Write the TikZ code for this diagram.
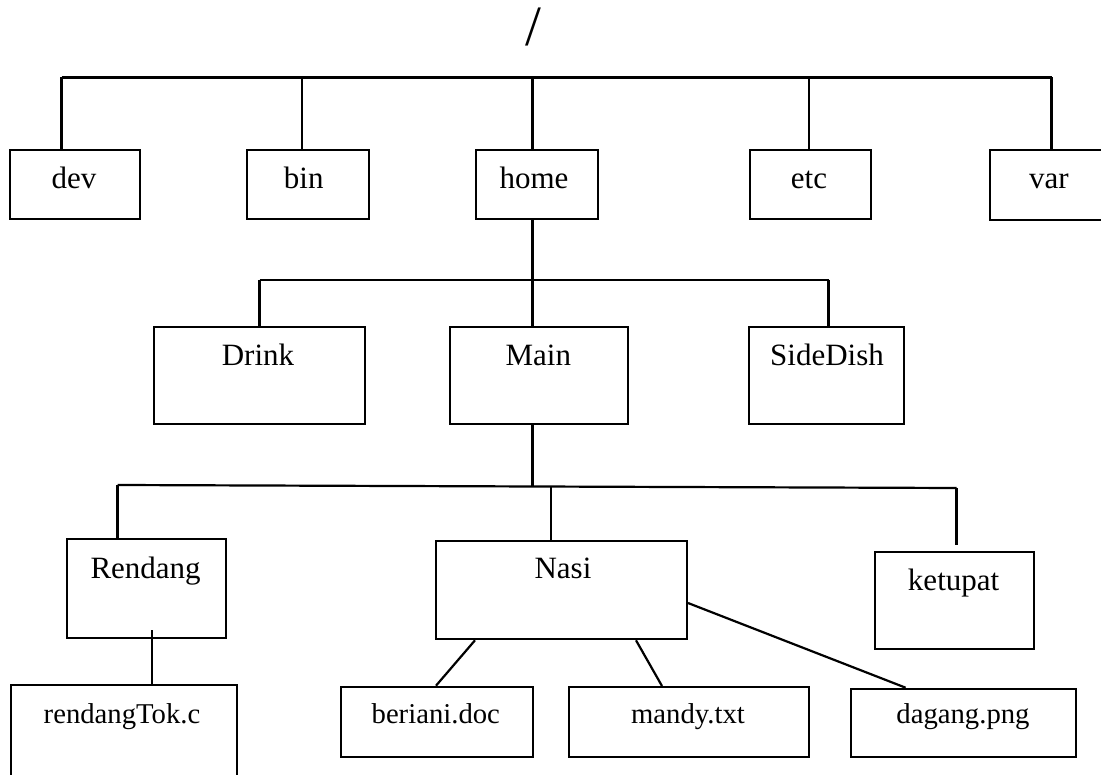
\documentclass[tikz,border=0pt]{standalone}
\usepackage{fontspec}
\setmainfont{Liberation Serif}
\begin{document}
\begin{tikzpicture}[x=1pt,y=-1pt,
  box/.style={draw, line width=2pt, inner sep=0pt, anchor=north west},
  dirtext/.style={font=\fontsize{31}{37}\selectfont, inner sep=0pt, anchor=base},
  filetext/.style={font=\fontsize{28.7}{34}\selectfont, inner sep=0pt, anchor=base},
  conn/.style={line width=2.2pt}]
\useasboundingbox (0,0) rectangle (1101,775);
\clip (0,0) rectangle (1101,775);
% root
\node[font=\fontsize{57}{60}\selectfont, inner sep=0pt] (root) at (533,27) {/};
% level 1 boxes
\node[box, minimum width=130pt, minimum height=69pt] (dev) at (9,149) {};
\node[box, minimum width=122pt, minimum height=69pt] (bin) at (246,149) {};
\node[box, minimum width=122pt, minimum height=69pt] (home) at (475,149) {};
\node[box, minimum width=121.5pt, minimum height=69pt] (etc) at (748.5,149) {};
\node[box, minimum width=130pt, minimum height=70pt] (var) at (989,149) {};
\node[dirtext] (dev-t) at (74,188.3) {dev};
\node[dirtext] (bin-t) at (303.7,188.3) {bin};
\node[dirtext] (home-t) at (534,188.3) {home};
\node[dirtext] (etc-t) at (809,188.3) {etc};
\node[dirtext] (var-t) at (1049,188.3) {var};
% level 1 connectors
\coordinate (b1L) at (61.5,77.5);
\coordinate (b1R) at (1051.5,77.5);
\coordinate (j-bin) at (302,77.5);
\coordinate (j-home) at (532.5,77.5);
\coordinate (j-etc) at (809,77.5);
\draw[conn] (b1L) -- (b1R);
\draw[conn] (b1L) -- (b1L |- dev.north);
\draw[conn] (j-bin) -- (j-bin |- bin.north);
\draw[conn] (j-home) -- (j-home |- home.north);
\draw[conn] (j-etc) -- (j-etc |- etc.north);
\draw[conn] (b1R) -- (b1R |- var.north);
% level 2 boxes
\node[box, minimum width=211.2pt, minimum height=97.8pt] (drink) at (152.6,325.7) {};
\node[box, minimum width=177.4pt, minimum height=97.8pt] (main) at (449.3,325.7) {};
\node[box, minimum width=155pt, minimum height=97.8pt] (side) at (748,325.7) {};
\node[dirtext] (drink-t) at (258,365.7) {Drink};
\node[dirtext] (main-t) at (538.3,365.7) {Main};
\node[dirtext] (side-t) at (827,365.7) {SideDish};
% level 2 connectors
\coordinate (b2L) at (259.5,280);
\coordinate (b2R) at (828.5,280);
\coordinate (j-main) at (532.5,280);
\draw[conn] (j-home |- home.south) -- (j-main);
\draw[conn] (b2L) -- (b2R);
\draw[conn] (b2L) -- (b2L |- drink.north);
\draw[conn] (j-main) -- (j-main |- main.north);
\draw[conn] (b2R) -- (b2R |- side.north);
% level 3 boxes
\node[box, minimum width=158.9pt, minimum height=98.4pt] (rendang) at (65.6,538.3) {};
\node[box, minimum width=251pt, minimum height=98.3pt] (nasi) at (435,540) {};
\node[box, minimum width=159pt, minimum height=97.6pt] (ketupat) at (874.3,550.7) {};
\node[dirtext] (rendang-t) at (145.6,578.3) {Rendang};
\node[dirtext] (nasi-t) at (563,578.3) {Nasi};
\node[dirtext] (ketupat-t) at (953.6,590.7) {ketupat};
% level 3 connectors
\coordinate (b3L) at (117.5,485);
\coordinate (b3R) at (956.5,488);
\coordinate (j-nasi) at (551,486.7);
\draw[conn] (j-main |- main.south) -- (532.5,486.2) coordinate (j-main3);
\draw[conn] (b3L) -- (b3R);
\draw[conn] (b3L) -- (b3L |- rendang.north);
\draw[conn] (j-nasi) -- (j-nasi |- nasi.north);
\draw[conn] (b3R) -- (956.5,545) coordinate (ketupat-top);
% level 4 boxes
\node[box, minimum width=226.5pt, minimum height=110pt] (rtok) at (9.5,684.3) {};
\node[box, minimum width=191.7pt, minimum height=70.3pt] (beriani) at (340,685.7) {};
\node[box, minimum width=239.7pt, minimum height=70pt] (mandy) at (568.3,686) {};
\node[box, minimum width=224.6pt, minimum height=68.3pt] (dagang) at (850.4,687.7) {};
\node[filetext] (rtok-t) at (122,723.3) {rendangTok.c};
\node[filetext] (beriani-t) at (435.8,723.3) {beriani.doc};
\node[filetext] (mandy-t) at (688,723.3) {mandy.txt};
\node[filetext] (dagang-t) at (963,723.3) {dagang.png};
% level 4 connectors
\coordinate (r-from) at (152,630);
\draw[conn] (r-from) -- (r-from |- rtok.north);
\draw[conn] (nasi.south west) ++(40,0) coordinate (n1) -- (436,685.7);
\draw[conn] (nasi.south west) ++(201,0) coordinate (n2) -- (662,686);
\draw[conn] (nasi.north east) ++(0,63) coordinate (n3) -- (905.6,687.7);
\end{tikzpicture}
\end{document}
